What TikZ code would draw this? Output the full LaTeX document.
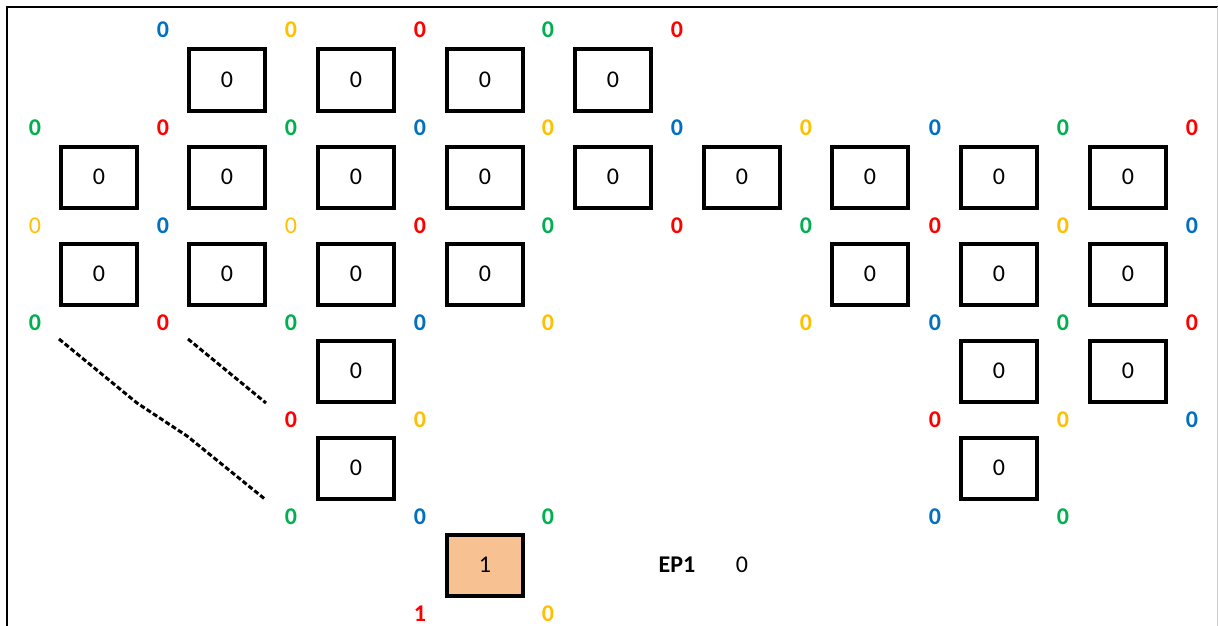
\documentclass[tikz,border=0pt]{standalone}
\usepackage{fontspec}
\setmainfont{Carlito}
\definecolor{cblue}{HTML}{0070C0}
\definecolor{cyel}{HTML}{FFC000}
\definecolor{cred}{HTML}{FF0000}
\definecolor{cgreen}{HTML}{00B050}
\definecolor{cfill}{HTML}{F8C191}
\begin{document}
\begin{tikzpicture}[x=1pt,y=-1pt,
  cell/.style={draw=black,line width=4pt,minimum width=76pt,minimum height=61pt,inner sep=0pt,font=\fontsize{24}{27}\selectfont},
  lab/.style={inner sep=0pt,font=\fontsize{24}{27}\selectfont\bfseries},
  labn/.style={inner sep=0pt,font=\fontsize{24}{27}\selectfont},
  B/.style={lab,text=cblue},Y/.style={lab,text=cyel},R/.style={lab,text=cred},G/.style={lab,text=cgreen},
  Yn/.style={labn,text=cyel},
  dash line/.style={line width=3pt,dash pattern=on 5pt off 2.5pt}]
\useasboundingbox (0,0) rectangle (1218,626);
\fill[white] (0,0) rectangle (1218,626);
% frame
\draw[line width=2pt] (7,640) -- (7,7) -- (1218,7);
\draw[line width=1pt,black!20] (1217,7) -- (1217,626);
% boxes row 1
\node[cell] (b11) at (227,80) {0};
\node[cell] (b12) at (356,80) {0};
\node[cell] (b13) at (485,80) {0};
\node[cell] (b14) at (613,80) {0};
% row 2
\node[cell] (b21) at (99,177) {0};
\node[cell] (b22) at (227,177) {0};
\node[cell] (b23) at (356,177) {0};
\node[cell] (b24) at (485,177) {0};
\node[cell] (b25) at (613,177) {0};
\node[cell] (b26) at (742,177) {0};
\node[cell] (b27) at (870,177) {0};
\node[cell] (b28) at (999,177) {0};
\node[cell] (b29) at (1128,177) {0};
% row 3
\node[cell] (b31) at (99,274) {0};
\node[cell] (b32) at (227,274) {0};
\node[cell] (b33) at (356,274) {0};
\node[cell] (b34) at (485,274) {0};
\node[cell] (b37) at (870,274) {0};
\node[cell] (b38) at (999,274) {0};
\node[cell] (b39) at (1128,274) {0};
% row 4
\node[cell] (b43) at (356,371) {0};
\node[cell] (b48) at (999,371) {0};
\node[cell] (b49) at (1128,371) {0};
% row 5
\node[cell] (b53) at (356,468) {0};
\node[cell] (b58) at (999,468) {0};
% row 6
\node[cell,fill=cfill] (b64) at (485,565) {1};
% labels row y=30
\node[B] (l1a) at (163,30) {0};
\node[Y] (l1b) at (291,30) {0};
\node[R] (l1c) at (420,30) {0};
\node[G] (l1d) at (548,30) {0};
\node[R] (l1e) at (677,30) {0};
% row y=128
\node[G] (l2a) at (35,128) {0};
\node[R] (l2b) at (163,128) {0};
\node[G] (l2c) at (291,128) {0};
\node[B] (l2d) at (420,128) {0};
\node[Y] (l2e) at (548,128) {0};
\node[B] (l2f) at (677,128) {0};
\node[Y] (l2g) at (806,128) {0};
\node[B] (l2h) at (935,128) {0};
\node[G] (l2i) at (1063,128) {0};
\node[R] (l2j) at (1192,128) {0};
% row y=226
\node[Yn] (l3a) at (35,226) {0};
\node[B] (l3b) at (163,226) {0};
\node[Yn] (l3c) at (291,226) {0};
\node[R] (l3d) at (420,226) {0};
\node[G] (l3e) at (548,226) {0};
\node[R] (l3f) at (677,226) {0};
\node[G] (l3g) at (806,226) {0};
\node[R] (l3h) at (935,226) {0};
\node[Y] (l3i) at (1063,226) {0};
\node[B] (l3j) at (1192,226) {0};
% row y=323
\node[G] (l4a) at (35,323) {0};
\node[R] (l4b) at (163,323) {0};
\node[G] (l4c) at (291,323) {0};
\node[B] (l4d) at (420,323) {0};
\node[Y] (l4e) at (548,323) {0};
\node[Y] (l4g) at (806,323) {0};
\node[B] (l4h) at (935,323) {0};
\node[G] (l4i) at (1063,323) {0};
\node[R] (l4j) at (1192,323) {0};
% row y=420
\node[R] (l5c) at (291,420) {0};
\node[Y] (l5d) at (420,420) {0};
\node[R] (l5h) at (935,420) {0};
\node[Y] (l5i) at (1063,420) {0};
\node[B] (l5j) at (1192,420) {0};
% row y=517
\node[G] (l6c) at (291,517) {0};
\node[B] (l6d) at (420,517) {0};
\node[G] (l6e) at (548,517) {0};
\node[B] (l6h) at (935,517) {0};
\node[G] (l6i) at (1063,517) {0};
% row y=614
\node[R] (l7d) at (420,614) {1};
\node[Y] (l7e) at (548,614) {0};
% EP1
\node[lab] (ep) at (677,565) {EP1};
\node[labn] (epv) at (742,565) {0};
% dashed lines
\coordinate (d1a) at (59,339);
\coordinate (d1b) at (137,403);
\coordinate (d1c) at (187,436);
\coordinate (d1d) at (266,500);
\coordinate (d2a) at (188,339);
\coordinate (d2b) at (266,403);
\draw[dash line] (d1a) -- (d1b) -- (d1c) -- (d1d);
\draw[dash line] (d2a) -- (d2b);
\end{tikzpicture}
\end{document}
